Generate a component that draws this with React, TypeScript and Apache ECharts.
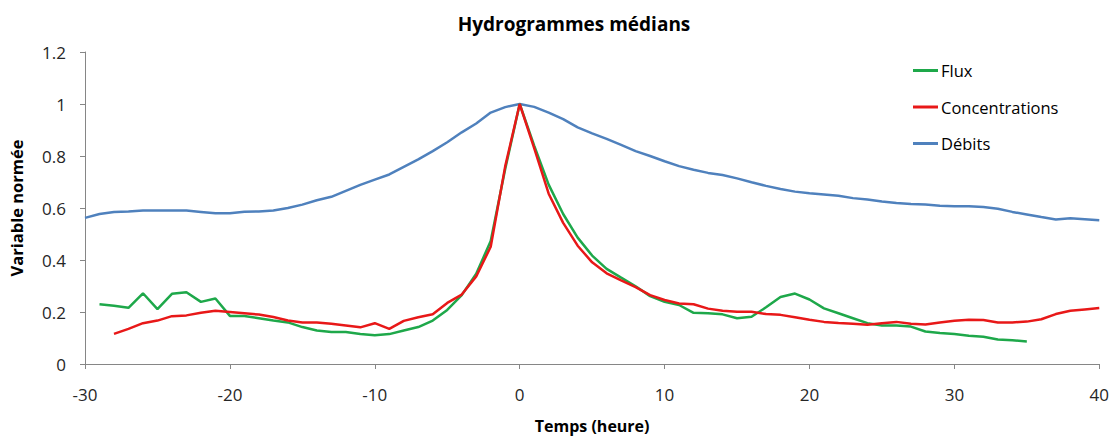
import React, { useEffect, useRef } from "react";
import * as echarts from "echarts";

const titleText = "Hydrogrammes médians";
const xAxisName = "Temps (heure)";
const yAxisName = "Variable normée";
const seriesNames = ["Flux", "Concentrations", "Débits"];

const fluxHours = [-29, -28, -27, -26, -25, -24, -23, -22, -21, -20, -19, -18, -17, -16, -15, -14, -13, -12, -11, -10, -9, -8, -7, -6, -5, -4, -3, -2, -1, 0, 1, 2, 3, 4, 5, 6, 7, 8, 9, 10, 11, 12, 13, 14, 15, 16, 17, 18, 19, 20, 21, 22, 23, 24, 25, 26, 27, 28, 29, 30, 31, 32, 33, 34, 35];
const fluxValues = [0.23, 0.224, 0.216, 0.272, 0.211, 0.27, 0.276, 0.239, 0.252, 0.185, 0.185, 0.176, 0.167, 0.16, 0.142, 0.129, 0.123, 0.123, 0.115, 0.111, 0.115, 0.129, 0.142, 0.167, 0.208, 0.265, 0.347, 0.473, 0.75, 1.0, 0.84, 0.69, 0.577, 0.486, 0.417, 0.366, 0.332, 0.299, 0.261, 0.239, 0.227, 0.197, 0.195, 0.191, 0.176, 0.182, 0.218, 0.258, 0.271, 0.248, 0.214, 0.195, 0.176, 0.157, 0.148, 0.148, 0.144, 0.125, 0.119, 0.115, 0.109, 0.105, 0.094, 0.091, 0.087];

const concHours = [-28, -27, -26, -25, -24, -23, -22, -21, -20, -19, -18, -17, -16, -15, -14, -13, -12, -11, -10, -9, -8, -7, -6, -5, -4, -3, -2, -1, 0, 1, 2, 3, 4, 5, 6, 7, 8, 9, 10, 11, 12, 13, 14, 15, 16, 17, 18, 19, 20, 21, 22, 23, 24, 25, 26, 27, 28, 29, 30, 31, 32, 33, 34, 35, 36, 37, 38, 39, 40];
const concValues = [0.116, 0.135, 0.157, 0.167, 0.184, 0.187, 0.197, 0.205, 0.2, 0.195, 0.19, 0.181, 0.167, 0.16, 0.16, 0.155, 0.148, 0.141, 0.157, 0.135, 0.166, 0.18, 0.191, 0.235, 0.267, 0.337, 0.451, 0.76, 1.0, 0.83, 0.655, 0.543, 0.455, 0.391, 0.349, 0.322, 0.296, 0.265, 0.246, 0.233, 0.23, 0.213, 0.205, 0.201, 0.201, 0.192, 0.189, 0.18, 0.17, 0.162, 0.158, 0.155, 0.151, 0.157, 0.162, 0.155, 0.152, 0.16, 0.166, 0.17, 0.169, 0.16, 0.16, 0.163, 0.172, 0.192, 0.205, 0.21, 0.215];

const debitHours = [-30, -29, -28, -27, -26, -25, -24, -23, -22, -21, -20, -19, -18, -17, -16, -15, -14, -13, -12, -11, -10, -9, -8, -7, -6, -5, -4, -3, -2, -1, 0, 1, 2, 3, 4, 5, 6, 7, 8, 9, 10, 11, 12, 13, 14, 15, 16, 17, 18, 19, 20, 21, 22, 23, 24, 25, 26, 27, 28, 29, 30, 31, 32, 33, 34, 35, 36, 37, 38, 39, 40];
const debitValues = [0.562, 0.577, 0.585, 0.587, 0.59, 0.59, 0.59, 0.59, 0.585, 0.58, 0.58, 0.586, 0.587, 0.59, 0.6, 0.613, 0.63, 0.643, 0.666, 0.689, 0.709, 0.729, 0.758, 0.787, 0.819, 0.853, 0.891, 0.925, 0.967, 0.988, 1.0, 0.989, 0.967, 0.942, 0.91, 0.887, 0.866, 0.843, 0.819, 0.8, 0.78, 0.761, 0.747, 0.735, 0.727, 0.714, 0.699, 0.685, 0.673, 0.663, 0.657, 0.652, 0.647, 0.638, 0.633, 0.625, 0.619, 0.615, 0.613, 0.609, 0.607, 0.607, 0.604, 0.597, 0.585, 0.575, 0.565, 0.556, 0.561, 0.557, 0.553];

const colors = ["#1EA84A", "#E81818", "#4F81BD"];

const zip = (xs: number[], ys: number[]) => xs.map((x, i) => [x, ys[i]]);

export default function App() {
  const ref = useRef<HTMLDivElement>(null);
  useEffect(() => {
    document.body.style.margin = "0";
    if (!ref.current) return;
    const chart = echarts.init(ref.current, null, { renderer: "svg" });
    const font = "Open Sans, Liberation Sans, sans-serif";
    const axisColor = "#868686";
    const labelColor = "#262626";
    chart.setOption({
      animation: false,
      backgroundColor: "#ffffff",
      textStyle: { fontFamily: font },
      title: {
        text: titleText,
        left: 569,
        textAlign: "center",
        top: 9,
        textStyle: { fontFamily: font, fontSize: 19, fontWeight: "bold", color: "#000" },
      },
      legend: {
        orient: "vertical",
        left: 908,
        top: 55,
        itemWidth: 25,
        itemHeight: 3,
        itemGap: 15.5,
        icon: "rect",
        data: seriesNames,
        textStyle: { fontFamily: font, fontSize: 16.5, color: "#000", lineHeight: 21, padding: [0, 0, 0, -2] },
      },
      grid: { left: 85, right: 12, top: 52, bottom: 71, containLabel: false },
      xAxis: {
        type: "value",
        min: -30,
        max: 40,
        interval: 10,
        name: xAxisName,
        nameLocation: "middle",
        nameGap: 54,
        nameTextStyle: { fontFamily: font, fontSize: 16, fontWeight: "bold", color: "#000" },
        axisLine: { show: true, onZero: false, lineStyle: { color: axisColor, width: 1 } },
        axisTick: { show: true, length: 5, lineStyle: { color: axisColor } },
        axisLabel: { fontFamily: font, fontSize: 17, color: labelColor, margin: 22 },
        splitLine: { show: false },
      },
      yAxis: {
        type: "value",
        min: 0,
        max: 1.2,
        interval: 0.2,
        name: yAxisName,
        nameLocation: "middle",
        nameGap: 60,
        nameTextStyle: { fontFamily: font, fontSize: 16.5, fontWeight: "bold", color: "#000" },
        axisLine: { show: true, onZero: false, lineStyle: { color: axisColor, width: 1 } },
        axisTick: { show: true, length: 5, lineStyle: { color: axisColor } },
        axisLabel: { fontFamily: font, fontSize: 17, color: labelColor, margin: 19 },
        splitLine: { show: false },
      },
      series: [
        { name: seriesNames[2], type: "line", data: zip(debitHours, debitValues), color: colors[2], showSymbol: false, lineStyle: { width: 2.5, color: colors[2] }, z: 1 },
        { name: seriesNames[0], type: "line", data: zip(fluxHours, fluxValues), color: colors[0], showSymbol: false, lineStyle: { width: 2.5, color: colors[0] }, z: 2 },
        { name: seriesNames[1], type: "line", data: zip(concHours, concValues), color: colors[1], showSymbol: false, lineStyle: { width: 2.5, color: colors[1] }, z: 3 },
      ],
    });
    return () => chart.dispose();
  }, []);
  return <div ref={ref} style={{ width: 1112, height: 439 }} />;
}
